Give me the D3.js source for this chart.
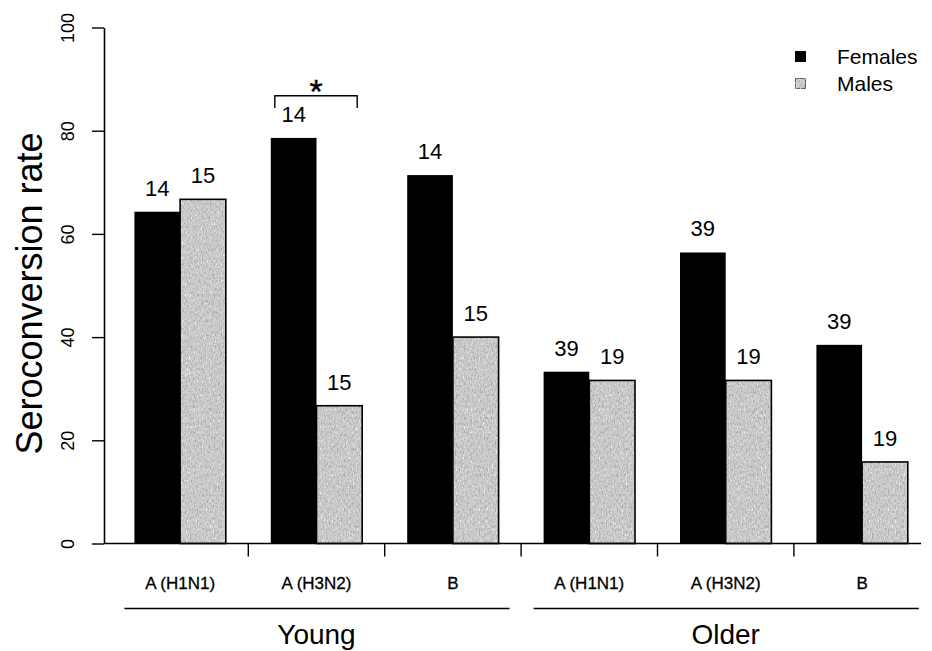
<!DOCTYPE html>
<html>
<head>
<meta charset="utf-8">
<script src="https://cdn.jsdelivr.net/npm/d3@7/dist/d3.min.js"></script>
<style>
  html, body { margin: 0; padding: 0; background: #fff; }
  svg { display: block; font-family: "Liberation Sans", Arial, Helvetica, sans-serif; }
</style>
</head>
<body>
<svg id="chart" width="932" height="651"></svg>
<script>
// Seroconversion rate by virus strain, age group and sex
const strains   = ["A (H1N1)", "A (H3N2)", "B", "A (H1N1)", "A (H3N2)", "B"];
const ageGroups = ["Young", "Young", "Young", "Older", "Older", "Older"];
const ageLabels = ["Young", "Older"];
const sexes     = ["Females", "Males"];
const females   = [64.3, 78.6, 71.4, 33.3, 56.4, 38.5];
const males     = [66.7, 26.7, 40.0, 31.6, 31.6, 15.8];
const femaleN   = [14, 14, 14, 39, 39, 39];
const maleN     = [15, 15, 15, 19, 19, 19];
const yTicks    = [0, 20, 40, 60, 80, 100];

const svg = d3.select("#chart");
const groupKeys = strains.map((s, i) => i);

// Stippled texture for the male bars: dark and light grains over grey
const defs = svg.append("defs");
const f = defs.append("filter").attr("id", "grain")
  .attr("filterUnits", "objectBoundingBox")
  .attr("x", 0).attr("y", 0).attr("width", 1).attr("height", 1);
f.append("feTurbulence").attr("type", "fractalNoise")
  .attr("baseFrequency", "0.75 0.35").attr("numOctaves", 2).attr("seed", 7).attr("result", "noise");
f.append("feColorMatrix").attr("in", "noise").attr("type", "matrix")
  .attr("values", "0 0 0 0 0.38  0 0 0 0 0.38  0 0 0 0 0.38  3.2 0 0 0 -1.5")
  .attr("result", "dark");
f.append("feColorMatrix").attr("in", "noise").attr("type", "matrix")
  .attr("values", "0 0 0 0 1  0 0 0 0 1  0 0 0 0 1  0 -3.2 0 0 1.35")
  .attr("result", "light");
f.append("feComposite").attr("in", "dark").attr("in2", "SourceGraphic").attr("operator", "in").attr("result", "darkC");
f.append("feComposite").attr("in", "light").attr("in2", "SourceGraphic").attr("operator", "in").attr("result", "lightC");
const fm = f.append("feMerge");
fm.append("feMergeNode").attr("in", "SourceGraphic");
fm.append("feMergeNode").attr("in", "lightC");
fm.append("feMergeNode").attr("in", "darkC");

const y = d3.scaleLinear().domain([0, 100]).range([543.5, 27.5]);
const x0 = d3.scaleBand().domain(groupKeys).range([89.4, 952.8])
  .paddingInner(0.33).paddingOuter(0.33);
const x1 = d3.scaleBand().domain(sexes).range([0, x0.bandwidth()]);

const rows = groupKeys.map(i => ({
  i,
  bars: [
    { sex: "Females", v: females[i], n: femaleN[i] },
    { sex: "Males",   v: males[i],   n: maleN[i] }
  ]
}));

// Y axis
const yAxis = svg.append("g").attr("transform", "translate(104,0)")
  .call(d3.axisLeft(y).tickValues(yTicks).tickSize(12).tickSizeOuter(0).tickPadding(0));
yAxis.select(".domain").attr("stroke", "#000").attr("stroke-width", 1.6);
yAxis.selectAll(".tick line").attr("stroke", "#000").attr("stroke-width", 1.4);
yAxis.selectAll(".tick text")
  .attr("x", 0).attr("dy", null)
  .attr("transform", "translate(-36,0) rotate(-90)")
  .attr("text-anchor", "middle").attr("dominant-baseline", "central")
  .attr("font-size", 18).attr("fill", "#000");

svg.append("text")
  .attr("transform", `translate(29,${(y(0) + y(100)) / 2 + 8}) rotate(-90)`)
  .attr("text-anchor", "middle").attr("dominant-baseline", "central")
  .attr("font-size", 36).attr("fill", "#000")
  .text("Seroconversion rate");

// Bars
const groups = svg.append("g").selectAll("g").data(rows).join("g")
  .attr("transform", d => `translate(${x0(d.i)},0)`);

groups.selectAll("rect.fem").data(d => d.bars.filter(b => b.sex === "Females")).join("rect")
  .attr("class", "fem")
  .attr("x", b => x1(b.sex)).attr("width", x1.bandwidth())
  .attr("y", b => y(b.v)).attr("height", b => y(0) - y(b.v))
  .attr("fill", "#000");

groups.selectAll("rect.male").data(d => d.bars.filter(b => b.sex === "Males")).join("rect")
  .attr("class", "male")
  .attr("x", b => x1(b.sex)).attr("width", x1.bandwidth())
  .attr("y", b => y(b.v)).attr("height", b => y(0) - y(b.v))
  .attr("fill", "#cdcdcd").attr("filter", "url(#grain)");

groups.selectAll("rect.maleEdge").data(d => d.bars.filter(b => b.sex === "Males")).join("rect")
  .attr("class", "maleEdge")
  .attr("x", b => x1(b.sex)).attr("width", x1.bandwidth())
  .attr("y", b => y(b.v)).attr("height", b => y(0) - y(b.v))
  .attr("fill", "none").attr("stroke", "#000").attr("stroke-width", 1.6);

groups.selectAll("text.n").data(d => d.bars).join("text")
  .attr("class", "n")
  .attr("x", b => x1(b.sex) + x1.bandwidth() / 2)
  .attr("y", b => y(b.v) - 16)
  .attr("text-anchor", "middle").attr("font-size", 22).attr("fill", "#000")
  .text(b => b.n);

// X axis line and ticks between strains
svg.append("line").attr("x1", 104).attr("x2", 921).attr("y1", y(0)).attr("y2", y(0))
  .attr("stroke", "#000").attr("stroke-width", 1.6);
const step = x0.step();
svg.append("g").selectAll("line").data(groupKeys.slice(1)).join("line")
  .attr("x1", i => x0(i) - step * x0.paddingInner() / 2)
  .attr("x2", i => x0(i) - step * x0.paddingInner() / 2)
  .attr("y1", y(0)).attr("y2", y(0) + 13)
  .attr("stroke", "#000").attr("stroke-width", 1.4);

svg.append("g").selectAll("text").data(groupKeys).join("text")
  .attr("x", i => x0(i) + x0.bandwidth() / 2)
  .attr("y", 589)
  .attr("text-anchor", "middle").attr("font-size", 17).attr("fill", "#000")
  .attr("stroke", "#000").attr("stroke-width", 0.3)
  .text(i => strains[i]);

// Age group underlines and labels
const ageSpans = ageLabels.map(a => {
  const idx = groupKeys.filter(i => ageGroups[i] === a);
  return { a, first: idx[0], last: idx[idx.length - 1] };
});
svg.append("g").selectAll("line").data(ageSpans).join("line")
  .attr("x1", d => x0(d.first) - 10)
  .attr("x2", d => x0(d.last) + x0.bandwidth() + 11)
  .attr("y1", 608.5).attr("y2", 608.5)
  .attr("stroke", "#000").attr("stroke-width", 1.6);
svg.append("g").selectAll("text").data(ageSpans).join("text")
  .attr("x", d => (x0(d.first) + x0(d.last) + x0.bandwidth()) / 2)
  .attr("y", 644)
  .attr("text-anchor", "middle").attr("font-size", 28).attr("fill", "#000")
  .text(d => d.a);

// Significance bracket over the young A (H3N2) pair
const sigGroup = 1;
const bx1 = x0(sigGroup) + 4, bx2 = x0(sigGroup) + x0.bandwidth() - 5;
svg.append("path")
  .attr("d", `M${bx1},108 V95.7 H${bx2} V108`)
  .attr("fill", "none").attr("stroke", "#000").attr("stroke-width", 1.4);
svg.append("text")
  .attr("x", (bx1 + bx2) / 2).attr("y", 103)
  .attr("text-anchor", "middle").attr("font-size", 34).attr("fill", "#000")
  .attr("stroke", "#000").attr("stroke-width", 0.4)
  .text("*");

// Legend
const legend = svg.append("g").attr("transform", "translate(795,51)");
const li = legend.selectAll("g").data(sexes).join("g")
  .attr("transform", (d, i) => `translate(0,${i * 27})`);
li.append("rect").attr("width", 11).attr("height", 11)
  .attr("fill", d => d === "Females" ? "#000" : "#cdcdcd")
  .attr("stroke", "#000").attr("stroke-width", d => d === "Females" ? 0 : 1.2)
  .attr("filter", d => d === "Females" ? null : "url(#grain)");
li.append("text").attr("x", 42).attr("y", 5.5)
  .attr("dominant-baseline", "central").attr("font-size", 21).attr("fill", "#000")
  .text(d => d);
</script>
</body>
</html>
